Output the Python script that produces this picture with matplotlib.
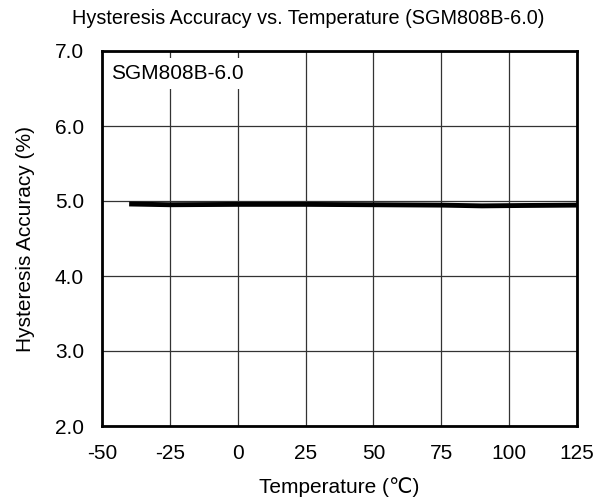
import matplotlib
matplotlib.use("Agg")
import matplotlib.pyplot as plt

plt.rcParams['font.family'] = ['Liberation Sans', 'DejaVu Sans']
plt.rcParams['axes.unicode_minus'] = False

# data
temperature = [-40, -25, 0, 25, 50, 75, 90, 105, 125]
hysteresis = [4.96, 4.95, 4.955, 4.955, 4.95, 4.945, 4.935, 4.94, 4.945]

x_ticks = [-50, -25, 0, 25, 50, 75, 100, 125]
y_ticks = [2.0, 3.0, 4.0, 5.0, 6.0, 7.0]

fig = plt.figure(figsize=(6.05, 5.0), dpi=100)
ax = fig.add_axes([0.1686, 0.148, 0.785, 0.75])

ax.plot(temperature, hysteresis, color='black', linewidth=3.5, solid_capstyle='butt')

ax.set_xlim(-50, 125)
ax.set_ylim(2.0, 7.0)
ax.set_xticks(x_ticks)
ax.set_yticks(y_ticks)
ax.set_yticklabels([f"{v:.1f}" for v in y_ticks])
ax.grid(True, color='#333333', linewidth=0.9)
ax.tick_params(axis='x', length=0, labelsize=15, pad=13)
ax.tick_params(axis='y', length=0, labelsize=15, pad=13)
for s in ax.spines.values():
    s.set_linewidth(2)

ax.text(-46.5, 6.7, "SGM808B-6.0", fontsize=15, va='center', ha='left',
        bbox=dict(facecolor='white', edgecolor='none', pad=4))

ax.set_xlabel("Temperature (℃)", fontsize=15, labelpad=10)
ax.set_ylabel("Hysteresis Accuracy (%)", fontsize=15, labelpad=14)
fig.text(308 / 605, 1 - 18 / 500, "Hysteresis Accuracy vs. Temperature (SGM808B-6.0)",
         fontsize=14.3, ha='center', va='center')

fig.savefig("out.png", dpi=100)
